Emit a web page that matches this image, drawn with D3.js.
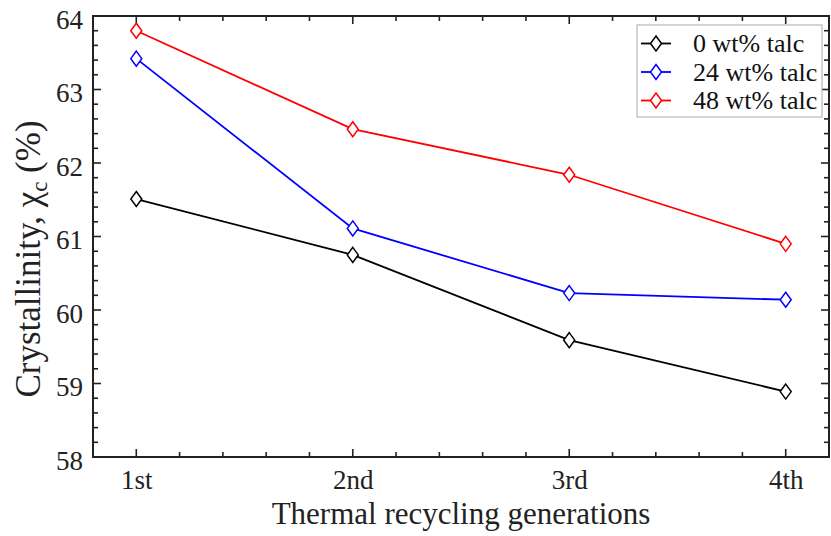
<!DOCTYPE html>
<html>
<head>
<meta charset="utf-8">
<script src="https://cdn.jsdelivr.net/npm/d3@7"></script>
<style>
  html, body { margin: 0; padding: 0; background: #fff; }
  svg { display: block; }
  svg text { font-family: "Liberation Serif", "Times New Roman", serif; }
</style>
</head>
<body>
<svg width="831" height="536"></svg>
<script>
// data
const generations = ["1st", "2nd", "3rd", "4th"];
const talc0 = [61.51, 60.75, 59.59, 58.89];
const talc24 = [63.42, 61.11, 60.23, 60.14];
const talc48 = [63.80, 62.46, 61.84, 60.90];
const seriesNames = ["0 wt% talc", "24 wt% talc", "48 wt% talc"];
const seriesColors = ["#000000", "#0000ff", "#ff0000"];
const yTicks = [58, 59, 60, 61, 62, 63, 64];

const series = [talc0, talc24, talc48].map((vals, i) => ({
  name: seriesNames[i],
  color: seriesColors[i],
  values: vals.map((v, j) => ({ x: j + 1, y: v }))
}));

const svg = d3.select("svg");
const pLeft = 93, pRight = 829, pTop = 16, pBottom = 457;

const x = d3.scaleLinear().domain([0.8, 4.2]).range([pLeft, pRight]);
const y = d3.scaleLinear().domain([58, 64]).range([pBottom, pTop]);

const minorX = d3.range(0.8, 4.21, 0.2).map(d => +d.toFixed(1));
const minorY = d3.range(58, 64.01, 0.2).map(d => +d.toFixed(1));
const serif = "Liberation Serif";

// bottom axis
const xAxis = d3.axisBottom(x).tickValues([1, 2, 3, 4])
  .tickFormat((d, i) => generations[i]).tickSize(0).tickPadding(13);
const gx = svg.append("g").attr("transform", `translate(0,${pBottom})`).call(xAxis);
gx.select(".domain").remove();
gx.attr("font-family", serif);
gx.selectAll("text").attr("font-size", 27).attr("fill", "#222").attr("font-family", serif);

// left axis
const yAxis = d3.axisLeft(y).tickValues(yTicks).tickFormat(d3.format("d"))
  .tickSize(0).tickPadding(10);
const gy = svg.append("g").attr("transform", `translate(${pLeft},0)`).call(yAxis);
gy.select(".domain").remove();
gy.attr("font-family", serif);
gy.selectAll("text").attr("font-size", 27).attr("fill", "#222")
  .attr("font-family", serif).attr("dy", "0.45em");

// inward ticks on all four sides
const ticks = svg.append("g").attr("stroke", "#222").attr("stroke-width", 1.6);
minorX.filter(d => d > 0.8 && d < 4.2).forEach(d => {
  const major = Number.isInteger(d);
  const len = major ? 8 : 5;
  ticks.append("line").attr("x1", x(d)).attr("x2", x(d)).attr("y1", pBottom).attr("y2", pBottom - len);
  ticks.append("line").attr("x1", x(d)).attr("x2", x(d)).attr("y1", pTop).attr("y2", pTop + len);
});
minorY.filter(d => d > 58 && d < 64).forEach(d => {
  const major = Math.abs(d - Math.round(d)) < 1e-6;
  const len = major ? 8 : 5;
  ticks.append("line").attr("x1", pLeft).attr("x2", pLeft + len).attr("y1", y(d)).attr("y2", y(d));
  ticks.append("line").attr("x1", pRight).attr("x2", pRight - len).attr("y1", y(d)).attr("y2", y(d));
});

// frame
svg.append("rect").attr("x", pLeft).attr("y", pTop)
  .attr("width", pRight - pLeft).attr("height", pBottom - pTop)
  .attr("fill", "none").attr("stroke", "#222").attr("stroke-width", 2);

// lines and markers
const line = d3.line().x(d => x(d.x)).y(d => y(d.y));
const diamond = "M0,-7.5L5.5,0L0,7.5L-5.5,0Z";

series.forEach(s => {
  svg.append("path").datum(s.values).attr("d", line)
    .attr("fill", "none").attr("stroke", s.color).attr("stroke-width", 1.8);
  svg.selectAll(null).data(s.values).enter().append("path")
    .attr("d", diamond)
    .attr("transform", d => `translate(${x(d.x)},${y(d.y)})`)
    .attr("fill", "#fff").attr("stroke", s.color).attr("stroke-width", 1.5);
});

// legend
const lg = svg.append("g");
lg.append("rect").attr("x", 637).attr("y", 25).attr("width", 185).attr("height", 92)
  .attr("fill", "#fff").attr("stroke", "#aaa").attr("stroke-width", 1);
series.forEach((s, i) => {
  const cy = 43.5 + i * 28.5;
  lg.append("line").attr("x1", 641).attr("x2", 671).attr("y1", cy).attr("y2", cy)
    .attr("stroke", s.color).attr("stroke-width", 1.8);
  lg.append("path").attr("d", diamond).attr("transform", `translate(656,${cy})`)
    .attr("fill", "#fff").attr("stroke", s.color).attr("stroke-width", 1.5);
  lg.append("text").attr("x", 693).attr("y", cy).attr("dy", "0.33em")
    .attr("font-size", 26).attr("fill", "#111").attr("font-family", serif).text(s.name);
});

// axis titles
svg.append("text").attr("x", 461).attr("y", 524)
  .attr("text-anchor", "middle").attr("font-size", 31).attr("fill", "#222")
  .attr("font-family", serif)
  .text("Thermal recycling generations");

const yt = svg.append("text")
  .attr("transform", `translate(40,259) rotate(-90)`)
  .attr("text-anchor", "middle").attr("font-size", 35).attr("fill", "#222")
  .attr("font-family", serif);
yt.append("tspan").text("Crystallinity, χ");
yt.append("tspan").attr("font-size", 23).attr("dy", 7).text("c");
yt.append("tspan").attr("dy", -7).text(" (%)");
</script>
</body>
</html>
